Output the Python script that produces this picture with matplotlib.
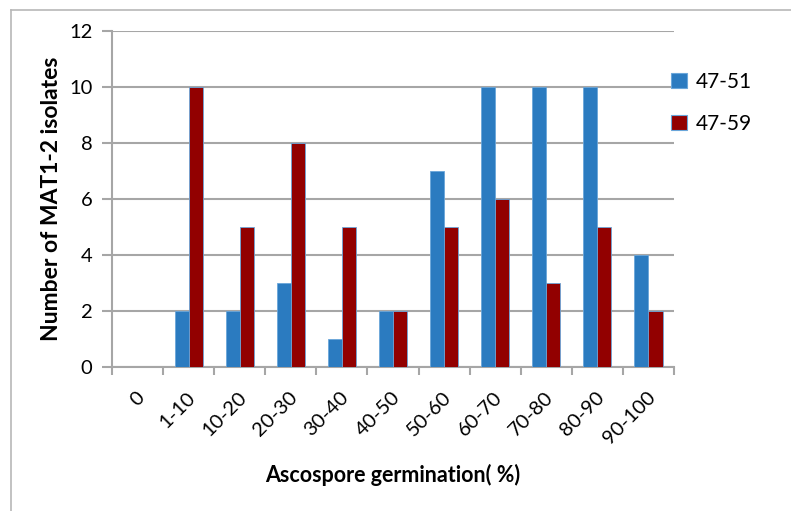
import matplotlib
matplotlib.use("Agg")
import matplotlib.pyplot as plt
import matplotlib.transforms as mtrans
from matplotlib.patches import Patch
from matplotlib.lines import Line2D
import numpy as np

plt.rcParams["font.family"] = ["Lato", "DejaVu Sans"]

# Data
categories = ["0", "1-10", "10-20", "20-30", "30-40", "40-50",
              "50-60", "60-70", "70-80", "80-90", "90-100"]
series_names = ["47-51", "47-59"]
isolates_4751 = [0, 2, 2, 3, 1, 2, 7, 10, 10, 10, 4]
isolates_4759 = [0, 10, 5, 8, 5, 2, 5, 6, 3, 5, 2]

blue = "#2b7bc0"
red = "#920000"
edge = "#6aa6da"
grid_col = "#a6a6a6"

fig = plt.figure(figsize=(7.91, 5.11), dpi=100)
ax = fig.add_axes([112 / 791, 1 - 367 / 511, (674 - 112) / 791, (367 - 31) / 511])

x = np.arange(len(categories))
width = 0.275
ax.bar(x - width / 2, isolates_4751, width=width, color=blue,
       edgecolor=edge, linewidth=0.6, zorder=3)
ax.bar(x + width / 2, isolates_4759, width=width, color=red,
       edgecolor=edge, linewidth=0.6, zorder=3)

ax.set_xlim(-0.5, len(categories) - 0.5)
ax.set_ylim(0, 12)
ax.set_yticks(range(0, 13, 2))
ax.yaxis.grid(True, color=grid_col, linewidth=1.5, zorder=0)
ax.set_axisbelow(True)

for s in ["top", "right"]:
    ax.spines[s].set_visible(False)
for s in ["left", "bottom"]:
    ax.spines[s].set_color(grid_col)
    ax.spines[s].set_linewidth(1.5)

# category boundaries get the ticks, labels sit at centres
ax.set_xticks(x)
ax.set_xticks(np.arange(-0.5, len(categories), 1), minor=True)
ax.tick_params(axis="x", which="major", length=0, pad=20, labelsize=14.5)
ax.tick_params(axis="x", which="minor", length=6, width=1.5, color=grid_col, direction="out")
ax.tick_params(axis="y", length=7, width=1.5, color=grid_col, pad=7, labelsize=14.5)
ax.set_xticklabels(categories, rotation=45, ha="right", va="center",
                   rotation_mode="anchor")

offset = mtrans.ScaledTranslation(3 / 72, 0, fig.dpi_scale_trans)
for lab in ax.get_xticklabels():
    lab.set_transform(lab.get_transform() + offset)

ax.set_xlabel("Ascospore germination( %)", fontsize=15.5, fontweight="bold", labelpad=12)
ax.set_ylabel("Number of MAT1-2 isolates", fontsize=16.5, fontweight="bold", labelpad=5)

handles = [Patch(facecolor=blue, edgecolor=edge, linewidth=0.8),
           Patch(facecolor=red, edgecolor=edge, linewidth=0.8)]
fig.legend(handles, series_names, loc="upper left", bbox_to_anchor=(671 / 791, 1 - 72 / 511),
           frameon=False, fontsize=15, handlelength=0.75, handleheight=0.75,
           handletextpad=0.45, labelspacing=1.05, borderpad=0, borderaxespad=0)

# partial frame of the screenshot
fig.add_artist(Line2D([11 / 791, 1], [1 - 10 / 511, 1 - 10 / 511], color="#b8b8b8", linewidth=1.2))
fig.add_artist(Line2D([11 / 791, 11 / 791], [0, 1 - 10 / 511], color="#b8b8b8", linewidth=1.2))

fig.savefig("out.png", dpi=100)
